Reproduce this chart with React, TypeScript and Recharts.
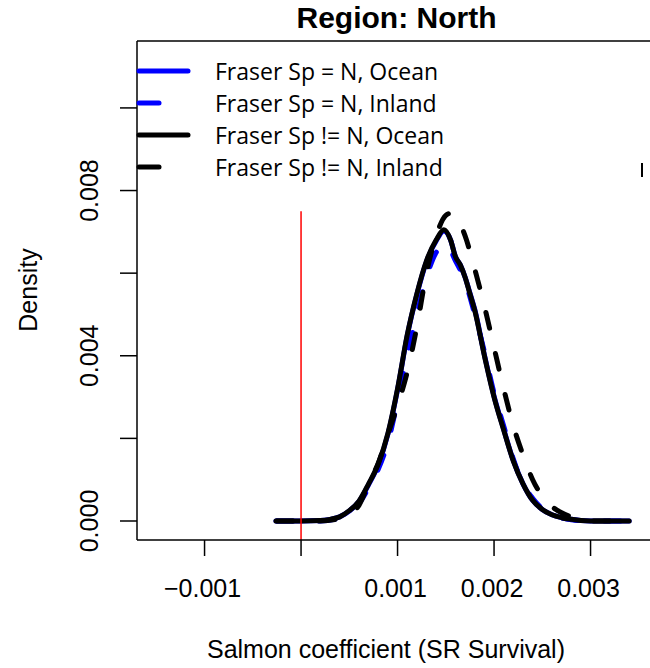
import React from 'react';
import { LineChart, Line, XAxis, YAxis, ReferenceLine } from 'recharts';

// density estimates, x = salmon coefficient, y = density
const fraserOceanX = [-0.00026, 0, 0.0002, 0.0003, 0.0004, 0.0005, 0.0006, 0.0007, 0.0008, 0.0009, 0.001, 0.0011, 0.0012, 0.0013, 0.0014, 0.00148, 0.00155, 0.0016, 0.00165, 0.0017, 0.00175, 0.0018, 0.0019, 0.002, 0.0021, 0.0022, 0.0023, 0.0024, 0.0025, 0.0026, 0.0027, 0.0028, 0.0029, 0.003, 0.0034];
const fraserOceanY = [0, 0, 0.00001, 0.00004, 0.0001, 0.00024, 0.00047, 0.00088, 0.00136, 0.0021, 0.00318, 0.00448, 0.00548, 0.00628, 0.00678, 0.00702, 0.0068, 0.0064, 0.0062, 0.0059, 0.00552, 0.00512, 0.00402, 0.00302, 0.00222, 0.00146, 0.0009, 0.0005, 0.00028, 0.00015, 0.00008, 0.00004, 0.00001, 0, 0];

const fraserInlandX = [-0.00025, 0.0002, 0.0004, 0.0005, 0.0006, 0.0007, 0.0008, 0.0009, 0.001, 0.0011, 0.0012, 0.0013, 0.0014, 0.0015, 0.0016, 0.0017, 0.0018, 0.0019, 0.002, 0.0021, 0.0022, 0.0023, 0.0024, 0.0025, 0.0026, 0.0027, 0.0028, 0.003, 0.0034];
const fraserInlandY = [0, 0, 0.00007, 0.0002, 0.00042, 0.0008, 0.00125, 0.0019, 0.0029, 0.004, 0.005, 0.0059, 0.0065, 0.0067, 0.0063, 0.0058, 0.005, 0.0041, 0.0031, 0.0023, 0.0015, 0.0009, 0.00055, 0.0003, 0.00017, 0.00008, 0.00003, 0, 0];

const otherOceanX = [-0.00026, 0, 0.0002, 0.0003, 0.0004, 0.0005, 0.0006, 0.0007, 0.0008, 0.0009, 0.001, 0.0011, 0.0012, 0.0013, 0.0014, 0.00148, 0.00155, 0.0016, 0.00165, 0.0017, 0.00175, 0.0018, 0.0019, 0.002, 0.0021, 0.0022, 0.0023, 0.0024, 0.0025, 0.0026, 0.0027, 0.0028, 0.0029, 0.003, 0.0034];
const otherOceanY = [0, 0, 0.00001, 0.00004, 0.0001, 0.00025, 0.00048, 0.0009, 0.00138, 0.00212, 0.0032, 0.0045, 0.0055, 0.0063, 0.0068, 0.00705, 0.0068, 0.0064, 0.0062, 0.0059, 0.0055, 0.0051, 0.004, 0.003, 0.0022, 0.00145, 0.0009, 0.0005, 0.00028, 0.00015, 0.00008, 0.00004, 0.00001, 0, 0];

const otherInlandX = [-0.00025, 0.0002, 0.0004, 0.0005, 0.0006, 0.0007, 0.0008, 0.0009, 0.001, 0.0011, 0.0012, 0.0013, 0.0014, 0.0015, 0.00155, 0.0016, 0.0017, 0.0018, 0.0019, 0.002, 0.0021, 0.0022, 0.0023, 0.0024, 0.0025, 0.0026, 0.0027, 0.0028, 0.0029, 0.003, 0.0034];
const otherInlandY = [0, 0, 0.00006, 0.00016, 0.00038, 0.0009, 0.0014, 0.0021, 0.0028, 0.0036, 0.0047, 0.006, 0.0069, 0.0074, 0.00745, 0.0074, 0.0069, 0.0061, 0.0052, 0.0042, 0.0032, 0.0023, 0.0016, 0.001, 0.0006, 0.00035, 0.0002, 0.0001, 0.00003, 0, 0];

const xTicks = [-0.001, 0, 0.001, 0.002, 0.003];
const yTicks = [0, 0.002, 0.004, 0.006, 0.008, 0.01];
const yLabelled = [0, 0.004, 0.008];

const legendNames = ['Fraser Sp = N, Ocean', 'Fraser Sp = N, Inland', 'Fraser Sp != N, Ocean', 'Fraser Sp != N, Inland'];
const legendColors = ['#0000ff', '#0000ff', '#000000', '#000000'];
const legendDashed = [false, true, false, true];

const toPoints = (xs: number[], ys: number[]) => xs.map((x, i) => ({ x, y: ys[i] }));

const AXIS_FONT = '"Liberation Sans", Arial, sans-serif';

const XTick = (props: any) => {
  const { x, y, payload } = props;
  if (payload.value === 0) return null;
  const label = payload.value < 0 ? '\u22120.001' : payload.value.toFixed(3);
  return (
    <text x={x - 2} y={y + 41} textAnchor="middle" fontSize={25} fontFamily={AXIS_FONT} fill="#000">
      {label}
    </text>
  );
};

const YTick = (props: any) => {
  const { x, y, payload } = props;
  if (!yLabelled.some(v => Math.abs(v - payload.value) < 1e-9)) return null;
  const cx = x - 31;
  return (
    <text
      x={cx}
      y={y}
      transform={`rotate(-90, ${cx}, ${y})`}
      textAnchor="middle"
      dominantBaseline="central"
      fontSize={25}
      fontFamily={AXIS_FONT}
      fill="#000"
    >
      {payload.value.toFixed(3)}
    </text>
  );
};

const curveProps = {
  type: 'monotone' as const,
  dataKey: 'y',
  dot: false,
  activeDot: false,
  strokeWidth: 5,
  strokeLinecap: 'round' as const,
  strokeLinejoin: 'round' as const,
  isAnimationActive: false,
};

export default function App() {
  return (
    <div style={{ position: 'absolute', left: 0, top: 0, width: 650, height: 668, overflow: 'hidden', background: '#fff' }}>
      <div
        style={{
          position: 'absolute',
          left: 0,
          width: 793,
          top: 0,
          textAlign: 'center',
          fontFamily: AXIS_FONT,
          fontWeight: 'bold',
          fontSize: 30,
          lineHeight: '36px',
        }}
      >
        Region: North
      </div>

      <LineChart width={700} height={668} margin={{ top: 41, right: 22.6, left: 0, bottom: 0 }}>
        <XAxis
          type="number"
          dataKey="x"
          domain={[-0.0017, 0.0039]}
          allowDataOverflow
          ticks={xTicks}
          tick={<XTick />}
          tickSize={16}
          tickMargin={0}
          height={128}
          stroke="#000"
          strokeWidth={1.5}
          interval={0}
        />
        <YAxis
          type="number"
          domain={[-0.00046, 0.01162]}
          allowDataOverflow
          ticks={yTicks}
          tick={<YTick />}
          tickSize={17}
          tickMargin={0}
          width={137}
          stroke="#000"
          strokeWidth={1.5}
          interval={0}
        />
        <ReferenceLine y={0.01162} stroke="#000" strokeWidth={1.5} ifOverflow="extendDomain" />
        <Line {...curveProps} data={toPoints(fraserOceanX, fraserOceanY)} stroke="#0000ff" name={legendNames[0]} />
        <Line {...curveProps} data={toPoints(fraserInlandX, fraserInlandY)} stroke="#0000ff" strokeDasharray="16 26" name={legendNames[1]} />
        <Line {...curveProps} data={toPoints(otherOceanX, otherOceanY)} stroke="#000" name={legendNames[2]} />
        <Line {...curveProps} data={toPoints(otherInlandX, otherInlandY)} stroke="#000" strokeDasharray="16 26" name={legendNames[3]} />
        <ReferenceLine
          segment={[{ x: 0, y: -0.00046 }, { x: 0, y: 0.0075 }]}
          stroke="#ff0000"
          strokeWidth={1.5}
        />
      </LineChart>

      <svg style={{ position: 'absolute', left: 0, top: 0 }} width={650} height={668} pointerEvents="none">
        {legendNames.map((name, i) => {
          const y = 71 + i * 32;
          return (
            <g key={name}>
              <line
                x1={139}
                x2={legendDashed[i] ? 159 : 188}
                y1={y}
                y2={y}
                stroke={legendColors[i]}
                strokeWidth={5}
                strokeLinecap="round"
              />
              <text x={215} y={y} dominantBaseline="central" fontSize={23} fontFamily='"Open Sans", sans-serif' fill="#000">
                {name}
              </text>
            </g>
          );
        })}
        <text
          x={28}
          y={290}
          transform="rotate(-90, 28, 290)"
          textAnchor="middle"
          dominantBaseline="central"
          fontSize={25}
          fontFamily={AXIS_FONT}
        >
          Density
        </text>
        <text x={386} y={658} textAnchor="middle" fontSize={25} fontFamily={AXIS_FONT}>
          Salmon coefficient (SR Survival)
        </text>
        <rect x={641} y={163} width={2} height={14} fill="#000" />
      </svg>
    </div>
  );
}
